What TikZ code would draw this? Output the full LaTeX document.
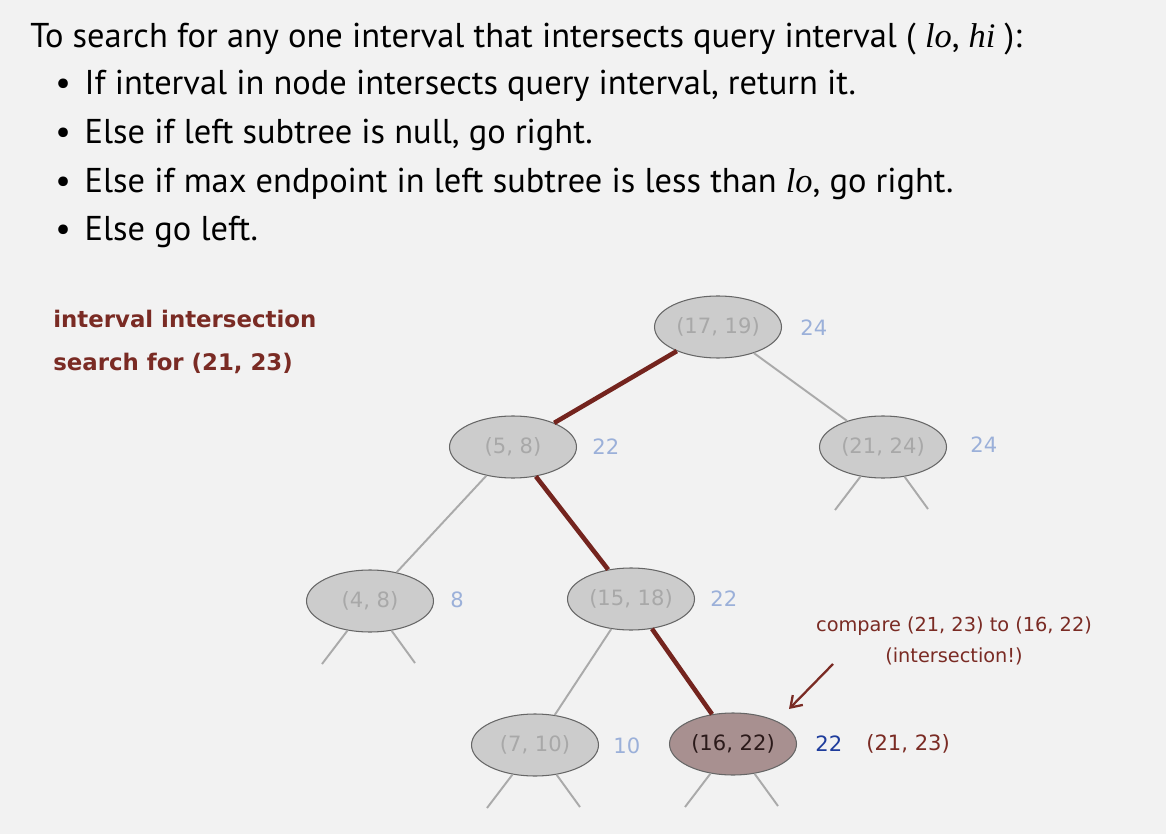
\documentclass[tikz,border=0pt]{standalone}
\usepackage{fontspec}
\setmainfont{PT Sans}
\newfontfamily\treefont{DejaVu Sans}
\newfontfamily\lofont{Liberation Serif}
\usepackage{tikz}
\usetikzlibrary{arrows.meta,shapes.geometric}
\definecolor{backgr}{HTML}{F2F2F2}
\definecolor{routebrown}{HTML}{74241E}
\definecolor{labelbrown}{HTML}{7A2B24}
\definecolor{edgegray}{HTML}{AAAAAA}
\definecolor{nodefill}{HTML}{CCCCCC}
\definecolor{nodeedge}{HTML}{666666}
\definecolor{nodetext}{HTML}{A8A8A8}
\definecolor{hitfill}{HTML}{A89090}
\definecolor{hittext}{HTML}{2B1A1A}
\definecolor{maxlight}{HTML}{9BB0D9}
\definecolor{maxdark}{HTML}{1E3C9C}
\newcommand{\lohi}[1]{{\lofont\itshape #1}}

\begin{document}
\begin{tikzpicture}[x=0.02cm,y=-0.02cm,
    key/.style={ellipse,draw=nodeedge,fill=nodefill,line width=0.6pt,minimum width=2.54cm,minimum height=1.24cm,inner sep=0pt,text=nodetext,font=\treefont\fontsize{12}{14}\selectfont},
    hit/.style={key,fill=hitfill,text=hittext},
    maxv/.style={anchor=west,inner sep=0pt,text=maxlight,font=\treefont\fontsize{12}{14}\selectfont},
    link/.style={draw=edgegray,line width=1.1pt},
    route/.style={draw=routebrown,line width=2.6pt},
    rule/.style={anchor=base west,inner sep=0pt,font=\fontsize{19.6}{24}\selectfont},
    note/.style={text=labelbrown,font=\treefont\fontsize{11}{13}\selectfont}]
  \fill[backgr] (0,0) rectangle (1166,834);
  \useasboundingbox (0,0) rectangle (1166,834);

  \node[rule] (title) at (30,48) {To search for any one interval that intersects query interval ( \lohi{lo}, \lohi{hi} ):};
  \node[rule] (r1) at (55,95) {\textbullet\hspace{0.4em}If interval in node intersects query interval, return it.};
  \node[rule] (r2) at (55,144) {\textbullet\hspace{0.4em}Else if left subtree is null, go right.};
  \node[rule] (r3) at (55,193) {\textbullet\hspace{0.4em}Else if max endpoint in left subtree is less than \lohi{lo}, go right.};
  \node[rule] (r4) at (55,241) {\textbullet\hspace{0.4em}Else go left.};

  \node[anchor=west,inner sep=0pt,text=labelbrown,font=\treefont\bfseries\fontsize{13}{15}\selectfont,align=left] (caption) at (53,342)
    {interval intersection\\[9pt]search for (21, 23)};

  % tree
  \node[key] (n1719) at (718,327) {(17, 19)};
  \node[key] (n58) at (513,447) {(5, 8)};
  \node[key] (n2124) at (883,447) {(21, 24)};
  \node[key] (n48) at (370,601) {(4, 8)};
  \node[key] (n1518) at (631,599) {(15, 18)};
  \node[key] (n710) at (535,745) {(7, 10)};
  \node[hit] (n1622) at (733,744) {(16, 22)};

  \node[maxv] (m1719) at (800,328) {24};
  \node[maxv] (m58) at (592,447) {22};
  \node[maxv] (m2124) at (970,445) {24};
  \node[maxv] (m48) at (450,600) {8};
  \node[maxv] (m1518) at (710,599) {22};
  \node[maxv] (m710) at (613,746) {10};
  \node[maxv,text=maxdark] (m1622) at (815,744) {22};
  \node[maxv,text=labelbrown] (query) at (866,744) {(21, 23)};

  \draw[link] (n1719) -- (n2124);
  \draw[link] (n58) -- (n48);
  \draw[link] (n1518) -- (n710);
  \draw[route] (n1719) -- (n58);
  \draw[route] (n58) -- (n1518);
  \draw[route] (n1518) -- (n1622);

  \foreach \n in {n2124,n48,n710,n1622} {
    \path (\n.center) +(-48,63) coordinate (\n-l) +(45,62) coordinate (\n-r);
    \draw[link] (\n) -- (\n-l);
    \draw[link] (\n) -- (\n-r);
  }

  \node[note,align=center] (cmp) at (954,641) {compare (21, 23) to (16, 22)\\[5pt](intersection!)};
  \coordinate (tip) at (789,709);
  \draw[draw=labelbrown,line width=1.3pt,-{Straight Barb[length=6pt,width=8pt]}] (833,664) -- (tip);
\end{tikzpicture}
\end{document}
